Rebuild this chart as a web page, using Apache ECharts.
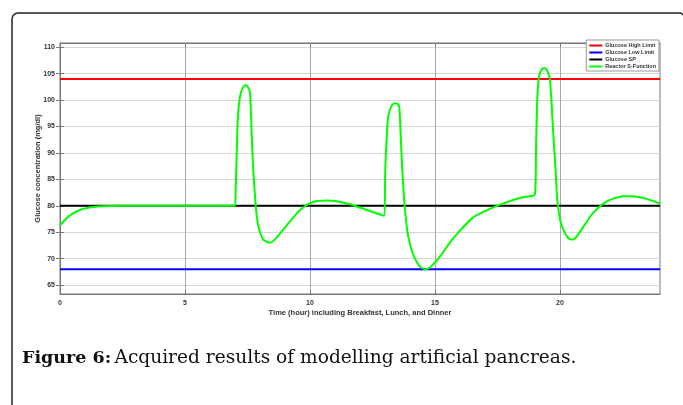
<!DOCTYPE html>
<html>
<head>
<meta charset="utf-8">
<script src="https://cdn.jsdelivr.net/npm/echarts@6/dist/echarts.min.js"></script>
<style>html,body{margin:0;padding:0;background:#fff}#c{width:683px;height:405px}</style>
</head>
<body>
<div id="c"></div>
<script>
var xTicks = [0, 5, 10, 15, 20];
var yTicks = [65, 70, 75, 80, 85, 90, 95, 100, 105, 110];
var highLimit = 104;
var lowLimit = 68;
var setPoint = 80;
var timeSpan = [0, 24];
var sfTime = [0,0.25,0.5,0.75,1.0,1.5,2.0,3.0,7.0,7.03,7.07,7.11,7.2,7.33,7.44,7.53,7.6,7.67,7.73,7.8,7.87,7.97,8.13,8.4,8.67,8.93,9.3,9.6,10.0,10.3,10.67,11.0,11.6,12.27,12.97,13.01,13.07,13.13,13.27,13.4,13.5,13.57,13.63,13.69,13.8,13.93,14.13,14.4,14.6,14.8,15.2,15.64,16.0,16.53,17.0,17.6,18.0,18.5,19.0,19.04,19.09,19.16,19.27,19.4,19.53,19.6,19.67,19.73,19.83,19.89,20.0,20.13,20.33,20.47,20.6,20.93,21.3,21.73,22.1,22.53,22.9,23.47,24.0];
var sfValue = [76.3,77.6,78.5,79.1,79.5,79.85,79.95,80,80,83.6,90.0,96.3,100.7,102.5,102.8,102.4,101.4,93.1,86.8,81.8,78.0,75.5,73.6,73.0,74.0,75.5,77.6,79.2,80.5,80.9,81.0,80.9,80.3,79.2,78.1,86.8,93.1,96.9,99.0,99.4,99.3,98.7,93.1,86.8,79.2,74.2,70.7,68.5,68.0,68.3,70.4,73.3,75.3,77.8,79.0,80.2,80.9,81.6,82.2,90.6,100.0,104.4,105.8,106.0,105.1,103.8,98.8,93.7,86.2,81.1,77.4,75.5,73.9,73.6,73.8,76.0,78.5,80.4,81.3,81.8,81.8,81.3,80.4];

function pairs(xs, ys){ return xs.map(function(x,i){ return [x, ys[i]]; }); }
function hline(v){ return timeSpan.map(function(t){ return [t, v]; }); }

var chart = echarts.init(document.getElementById('c'), null, {renderer:'canvas'});
var axisFont = {fontFamily:'Liberation Sans', fontSize:7, fontWeight:'bold', color:'#333'};
var yMin = 63.3, yMax = 110.8;
chart.setOption({
  animation:false,
  backgroundColor:'#fff',
  grid:{left:60, right:23, top:43, bottom:111, show:true, borderColor:'#777', borderWidth:1, backgroundColor:'#fff'},
  legend:{
    orient:'vertical', right:24, top:40, icon:'rect', itemWidth:13, itemHeight:2, itemGap:0,
    backgroundColor:'#fff', borderColor:'#999', borderWidth:1, borderRadius:0, padding:[2,3,1,3],
    textStyle:{fontFamily:'Liberation Sans', fontSize:5.5, lineHeight:7, fontWeight:'bold', color:'#333', padding:[0,0,0,-2]},
    data:['Glucose High Limit','Glucose Low Limit','Glucose SP','Reactor S-Function']
  },
  xAxis:[{
    type:'value', min:timeSpan[0], max:timeSpan[1],
    axisLine:{show:true, lineStyle:{color:'#777', width:1}},
    axisTick:{show:true, inside:true, length:4, customValues:xTicks, lineStyle:{color:'#777'}},
    axisLabel:Object.assign({customValues:xTicks, margin:6}, axisFont),
    splitLine:{show:true, lineStyle:{color:'#a8a8a8', width:1}},
    name:'Time (hour) including Breakfast, Lunch, and Dinner', nameLocation:'middle', nameGap:15, nameMoveOverlap:false,
    nameTextStyle:{fontFamily:'Liberation Sans', fontSize:7.5, fontWeight:'bold', color:'#333'}
  },{
    type:'value', position:'top', min:timeSpan[0], max:timeSpan[1],
    axisLine:{show:true, lineStyle:{color:'#777', width:1}},
    axisTick:{show:true, inside:true, length:4, customValues:xTicks, lineStyle:{color:'#777'}},
    axisLabel:{show:false}, splitLine:{show:false}
  }],
  yAxis:[{
    type:'value', min:yMin, max:yMax,
    axisLine:{show:true, lineStyle:{color:'#777', width:1}},
    axisTick:{show:true, inside:true, length:4, customValues:yTicks, lineStyle:{color:'#777'}},
    axisLabel:Object.assign({customValues:yTicks, margin:5}, axisFont),
    splitLine:{show:true, lineStyle:{color:'#d6d6d6', width:1}},
    name:'Glucose concentration (mg/dl)', nameLocation:'middle', nameGap:18, nameMoveOverlap:false,
    nameTextStyle:{fontFamily:'Liberation Sans', fontSize:7.5, fontWeight:'bold', color:'#333'}
  },{
    type:'value', position:'right', min:yMin, max:yMax,
    axisLine:{show:true, lineStyle:{color:'#777', width:1}},
    axisTick:{show:true, inside:true, length:4, customValues:yTicks, lineStyle:{color:'#777'}},
    axisLabel:{show:false}, splitLine:{show:false}
  }],
  series:[
    {name:'Glucose High Limit', type:'line', data:hline(highLimit), showSymbol:false, symbol:'none', lineStyle:{color:'#ff0000', width:2}, itemStyle:{color:'#ff0000'}},
    {name:'Glucose Low Limit', type:'line', data:hline(lowLimit), showSymbol:false, symbol:'none', lineStyle:{color:'#0000ff', width:2}, itemStyle:{color:'#0000ff'}},
    {name:'Glucose SP', type:'line', data:hline(setPoint), showSymbol:false, symbol:'none', lineStyle:{color:'#000000', width:2}, itemStyle:{color:'#000000'}},
    {name:'Reactor S-Function', type:'line', data:pairs(sfTime, sfValue), showSymbol:false, symbol:'none', smooth:0.25, lineStyle:{color:'#00ff00', width:2}, itemStyle:{color:'#00ff00'}}
  ],
  graphic:[
    {type:'polyline', silent:true, shape:{points:[[12,405],[12,19]]}, style:{stroke:'#222', lineWidth:1.5, fill:null}},
    {type:'arc', silent:true, shape:{cx:18, cy:19, r:6, startAngle:Math.PI, endAngle:Math.PI*1.5}, style:{stroke:'#222', lineWidth:1.5, fill:null}},
    {type:'polyline', silent:true, shape:{points:[[18,13],[681,13],[683,15]]}, style:{stroke:'#222', lineWidth:1.5, fill:null}},
    {type:'text', left:22, top:349, style:{
      text:'{b|Figure 6:} {r|Acquired results of modelling artificial pancreas.}',
      rich:{
        b:{fontFamily:'DejaVu Serif', fontWeight:'bold', fontSize:17.5, fill:'#111'},
        r:{fontFamily:'DejaVu Serif', fontSize:18.6, fill:'#111'}
      }
    }}
  ]
});
</script>
</body>
</html>
